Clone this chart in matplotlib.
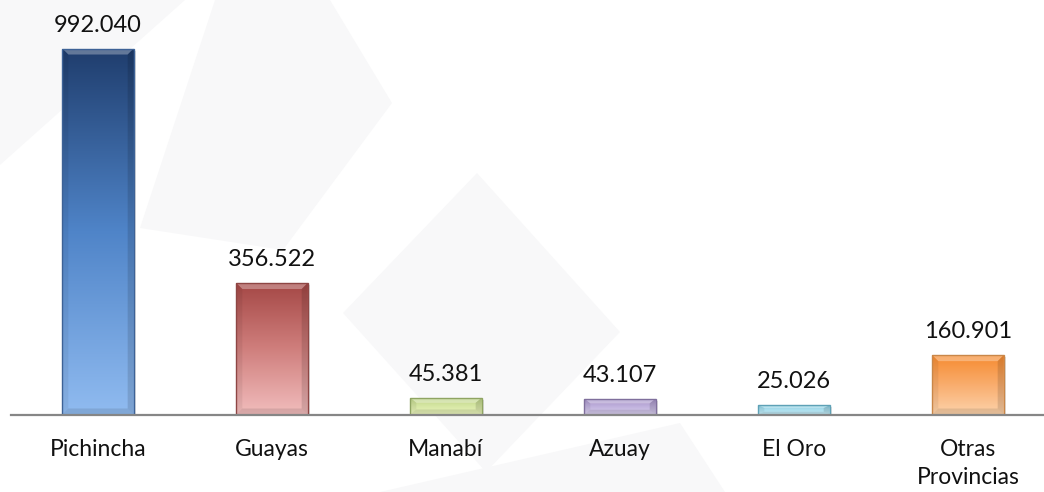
import numpy as np
import matplotlib
matplotlib.use('Agg')
import matplotlib.pyplot as plt
import matplotlib.transforms as mtransforms
from matplotlib.colors import LinearSegmentedColormap
from matplotlib.patches import Polygon, Rectangle

# Datos
provincias = ['Pichincha', 'Guayas', 'Manabí', 'Azuay', 'El Oro', 'Otras\nProvincias']
valores = [992040, 356522, 45381, 43107, 25026, 160901]

# Colores de cada barra (arriba, medio, abajo) y borde
color_arriba = ['#1f3d6d', '#a44745', '#b9cf84', '#a08cc2', '#80c6da', '#f68a2e']
color_medio = ['#4f84c8', '#cf7e7c', '#d5e6a2', '#bfb0dc', '#a6dcec', '#f9ac6c']
color_abajo = ['#90bbf0', '#f1bcbc', '#eaf4bc', '#d8ceee', '#c2eaf5', '#fcd2aa']
color_borde = ['#3d6296', '#8e4644', '#8fa462', '#7f6f9c', '#5ea1b6', '#c98749']

plt.rcParams['font.family'] = ['Lato', 'DejaVu Sans']

fig = plt.figure(figsize=(10.44, 4.92), dpi=100)
fig.patch.set_facecolor('white')

# fondo con figuras muy tenues (marca de agua)
fondo = fig.add_axes([0, 0, 1, 1], zorder=0)
fondo.set_xlim(0, 1044)
fondo.set_ylim(492, 0)
fondo.axis('off')
figuras = [
    [(0, 0), (185, 0), (0, 165)],
    [(215, 0), (330, 0), (392, 103), (283, 250), (140, 228)],
    [(477, 173), (620, 332), (486, 472), (343, 313)],
    [(680, 423), (725, 492), (380, 492)],
]
for pts in figuras:
    fondo.add_patch(Polygon(pts, closed=True, fc='#f8f8f9', ec='none'))

ax = fig.add_axes([11 / 1044, 77.5 / 492, 1.0, 414.5 / 492], zorder=1)
ax.patch.set_alpha(0)

x = np.arange(len(provincias))
ancho = 0.41
ymax = 1123500
px_x = 1 / 174.0          # unidades x por pixel
px_y = ymax / 414.5       # unidades y por pixel

barras = ax.bar(x, valores, width=ancho, color='none', edgecolor=color_borde,
                linewidth=1, zorder=4)

sombra_tr = mtransforms.offset_copy(ax.transData, fig=fig, x=2, y=-2, units='dots')
grad = np.linspace(0, 1, 256).reshape(-1, 1)
for i, b in enumerate(barras):
    x0 = b.get_x()
    x1 = x0 + b.get_width()
    h = b.get_height()
    # sombra
    ax.add_patch(Rectangle((x0, 0), b.get_width(), h, transform=sombra_tr,
                           fc='black', alpha=0.12, ec='none', zorder=1.5))
    # degradado
    cmap = LinearSegmentedColormap.from_list(
        'g%d' % i, [color_abajo[i], color_medio[i], color_arriba[i]])
    im = ax.imshow(grad, extent=[x0, x1, 0, h], origin='lower', aspect='auto',
                   cmap=cmap, zorder=2, interpolation='bicubic')
    im.set_clip_path(b)
    # bisel
    bx = 6 * px_x
    by = min(6 * px_y, h * 0.3)
    ax.add_patch(Polygon([(x0, h), (x1, h), (x1 - bx, h - by), (x0 + bx, h - by)],
                         fc='white', alpha=0.3, ec='none', zorder=3))
    ax.add_patch(Polygon([(x0, 0), (x1, 0), (x1 - bx, by), (x0 + bx, by)],
                         fc='black', alpha=0.1, ec='none', zorder=3))
    ax.add_patch(Polygon([(x0, 0), (x0 + bx, by), (x0 + bx, h - by), (x0, h)],
                         fc='black', alpha=0.06, ec='none', zorder=3))
    ax.add_patch(Polygon([(x1, 0), (x1 - bx, by), (x1 - bx, h - by), (x1, h)],
                         fc='black', alpha=0.12, ec='none', zorder=3))
    # etiqueta de valor
    ax.annotate(f'{valores[i]:,}'.replace(',', '.'), (x[i], h), xytext=(0, 12.2),
                textcoords='offset points', ha='center', va='baseline',
                fontsize=17, color='#111111')

ax.set_xlim(-0.5, 5.5)
ax.set_ylim(0, ymax)
ax.set_xticks(x)
ax.set_xticklabels(provincias, fontsize=16.5, color='#111111', linespacing=1.4)
ax.tick_params(axis='x', length=0, pad=18)
ax.set_yticks([])
for s in ['top', 'right', 'left']:
    ax.spines[s].set_visible(False)
ax.spines['bottom'].set_color('#868686')
ax.spines['bottom'].set_linewidth(1.6)
ax.spines['bottom'].set_zorder(5)

fig.savefig('out.png', dpi=100)
